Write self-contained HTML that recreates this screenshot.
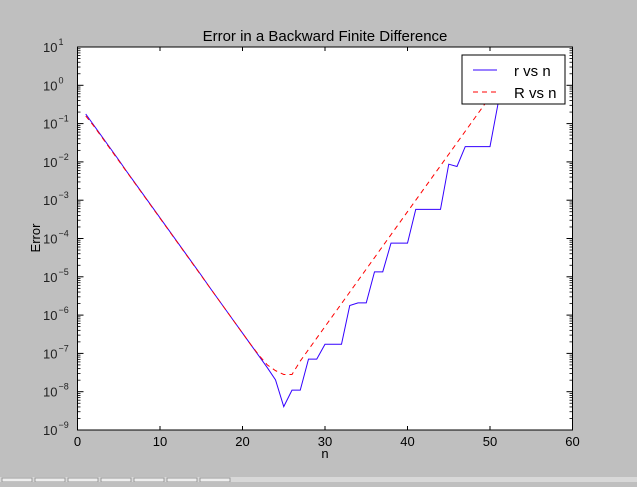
<!DOCTYPE html>
<html><head><meta charset="utf-8"><style>
body{margin:0;background:#bfbfbf;width:637px;height:482px;overflow:hidden;font-family:"Liberation Sans",sans-serif}
</style></head><body>
<svg id="chart" width="637" height="482" xmlns="http://www.w3.org/2000/svg">
<rect x="0" y="0" width="637" height="482" fill="#bfbfbf"/>
<text x="325" y="41" text-anchor="middle" font-size="15" fill="#000">Error in a Backward Finite Difference</text>
<rect x="77.5" y="47" width="495" height="383" fill="#fff" stroke="#000" stroke-width="1"/>
<defs><clipPath id="clip"><rect x="77.5" y="47" width="495" height="383"/></clipPath></defs>
<g id="ticks"></g>
<g id="series" clip-path="url(#clip)"></g>
<rect x="77.5" y="47" width="495" height="383" fill="none" stroke="#000" stroke-width="1"/>
<g>
<rect x="462" y="55" width="103" height="49" fill="#fff" stroke="#000" stroke-width="1"/>
<line x1="473" y1="70" x2="497" y2="70" stroke="#3300ff" stroke-width="1"/>
<text x="514" y="76" font-size="15">r vs n</text>
<line x1="473" y1="92" x2="497" y2="92" stroke="#ff0000" stroke-width="1" stroke-dasharray="5,4"/>
<text x="514" y="98" font-size="15">R vs n</text>
</g>
<text x="325" y="458" text-anchor="middle" font-size="13">n</text>
<text x="40" y="238" text-anchor="middle" font-size="13" transform="rotate(-90 40 238)">Error</text>
<g>
<rect x="0" y="477" width="637" height="5" fill="#d8d8d8"/>
<rect x="2" y="478" width="30" height="4" fill="#eee" stroke="#999"/><rect x="35" y="478" width="30" height="4" fill="#eee" stroke="#999"/><rect x="68" y="478" width="30" height="4" fill="#eee" stroke="#999"/><rect x="101" y="478" width="30" height="4" fill="#eee" stroke="#999"/><rect x="134" y="478" width="30" height="4" fill="#eee" stroke="#999"/><rect x="167" y="478" width="30" height="4" fill="#eee" stroke="#999"/><rect x="200" y="478" width="30" height="4" fill="#eee" stroke="#999"/>
</g>
</svg>
<script>
const nValues = [1,2,3,4,5,6,7,8,9,10,11,12,13,14,15,16,17,18,19,20,21,22,23,24,25,26,27,28,29,30,31,32,33,34,35,36,37,38,39,40,41,42,43,44,45,46,47,48,49,50,51];
const rLog10 = [-0.75,-1.05,-1.35,-1.65,-1.95,-2.26,-2.56,-2.86,-3.16,-3.46,-3.76,-4.06,-4.36,-4.66,-4.96,-5.27,-5.57,-5.87,-6.17,-6.47,-6.77,-7.07,-7.37,-7.69,-8.39,-7.96,-7.96,-7.15,-7.15,-6.76,-6.76,-6.76,-5.75,-5.68,-5.68,-4.87,-4.87,-4.12,-4.12,-4.12,-3.24,-3.24,-3.24,-3.24,-2.06,-2.12,-1.60,-1.60,-1.60,-1.60,-0.45];
const RLog10 = [-0.80,-1.07,-1.37,-1.67,-1.97,-2.27,-2.57,-2.87,-3.17,-3.47,-3.77,-4.07,-4.37,-4.67,-4.97,-5.27,-5.57,-5.87,-6.17,-6.47,-6.77,-7.05,-7.30,-7.45,-7.55,-7.55,-7.20,-6.90,-6.60,-6.30,-6.00,-5.70,-5.40,-5.10,-4.80,-4.50,-4.20,-3.90,-3.60,-3.30,-3.00,-2.70,-2.40,-2.10,-1.80,-1.50,-1.20,-0.90,-0.60,-0.30,0.00];
const xTicks = [0,10,20,30,40,50,60];
const yDecades = [1,0,-1,-2,-3,-4,-5,-6,-7,-8,-9];

const X0=77.5,X1=572.5,Y0=47,Y1=430;
const xs = n => X0 + (n-0)/(60-0)*(X1-X0);
const ys = e => Y0 + (1-e)/(1-(-9))*(Y1-Y0);
const NS='http://www.w3.org/2000/svg';
const ticks=document.getElementById('ticks');
const series=document.getElementById('series');
function mk(tag,attrs,parent){const e=document.createElementNS(NS,tag);for(const k in attrs)e.setAttribute(k,attrs[k]);parent.appendChild(e);return e;}

xTicks.forEach(v=>{
  const x=xs(v);
  const t1=mk('line',{x1:x,y1:Y1,x2:x,y2:Y1-4,stroke:'#000'},ticks);
  
  
  mk('line',{x1:x,y1:Y0,x2:x,y2:Y0+4,stroke:'#000'},ticks);
  const tx=mk('text',{x:x,y:Y1+16,'text-anchor':'middle','font-size':13},ticks);
  tx.textContent=v;
  
  
});
yDecades.forEach(d=>{
  const y=ys(d);
  const t1=mk('line',{x1:X0,y1:y,x2:X0+6,y2:y,stroke:'#000'},ticks);
  
  
  mk('line',{x1:X1,y1:y,x2:X1-6,y2:y,stroke:'#000'},ticks);
  if(d>-9){for(let m=2;m<10;m++){const yy=ys(d-1+Math.log10(m));
    mk('line',{x1:X0,y1:yy,x2:X0+3,y2:yy,stroke:'#000','stroke-width':0.8},ticks);
    mk('line',{x1:X1,y1:yy,x2:X1-3,y2:yy,stroke:'#000','stroke-width':0.8},ticks);}}
  const tx=mk('text',{x:X0-20,y:y+5,'text-anchor':'end','font-size':13,fill:'#222'},ticks);
  tx.textContent='10';
  
  
  const sp=mk('text',{x:X0-19,y:y-2,'text-anchor':'start','font-size':9,fill:'#222'},ticks);
  sp.textContent=String(d).replace('-','\u2212');
});
function path(vals,color,dash,name){
  let d='';vals.forEach((v,i)=>{d+=(i?'L':'M')+xs(nValues[i]).toFixed(2)+','+ys(v).toFixed(2);});
  const p=mk('path',{d:d,fill:'none',stroke:color,'stroke-width':1},series);
  if(dash)p.setAttribute('stroke-dasharray',dash);
  
  
}
path(rLog10,'#3300ff',null,'r-vs-n-line');
path(RLog10,'#ff0000','5,4','R-vs-n-line');
</script>
</body></html>
